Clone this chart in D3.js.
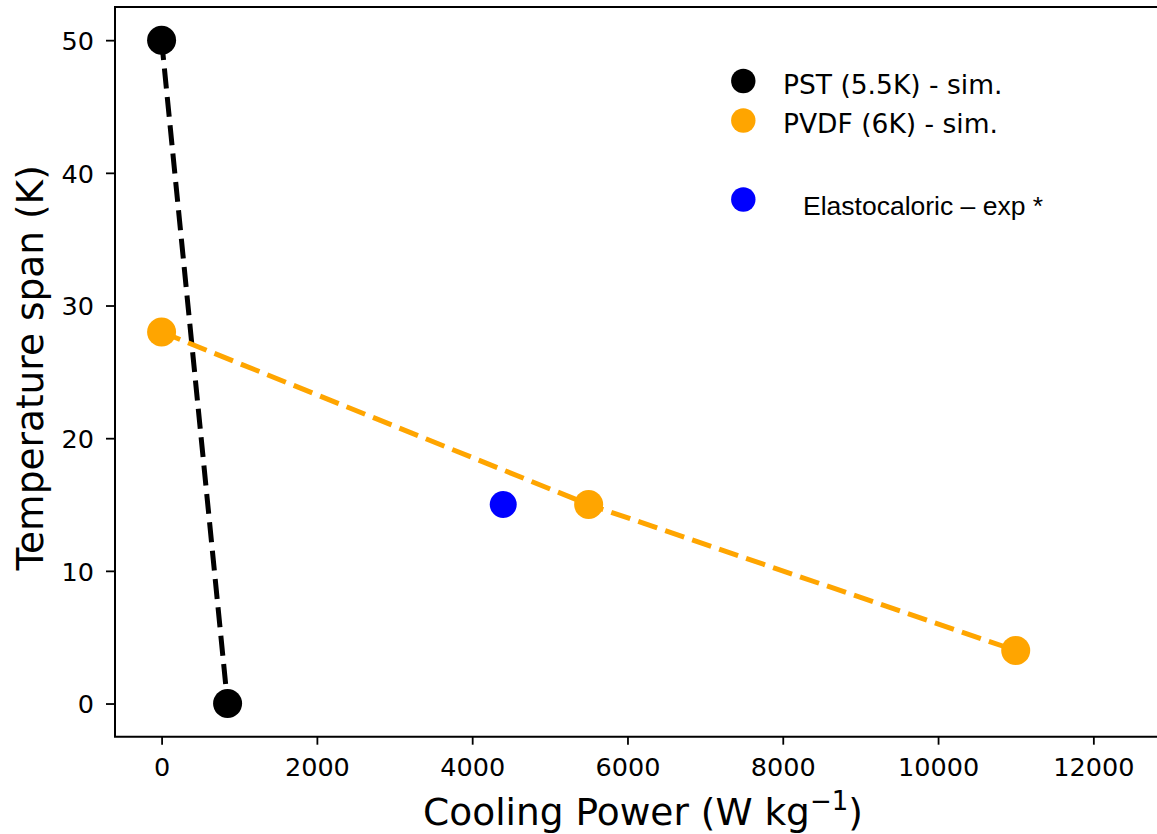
<!DOCTYPE html>
<html>
<head>
<meta charset="utf-8">
<script src="https://cdn.jsdelivr.net/npm/d3@7"></script>
<style>
  html, body { margin: 0; padding: 0; background: #fff; }
  svg { display: block; }
</style>
</head>
<body>
<svg id="chart" width="1157" height="834"></svg>
<script>
// Simulated caloric cycles: temperature span vs cooling power
const pstPower = [0, 850];
const pstSpan = [50, 0];
const pvdfPower = [0, 5500, 11000];
const pvdfSpan = [28, 15, 4];
const elastoPower = [4400];
const elastoSpan = [15];

const xTicks = [0, 2000, 4000, 6000, 8000, 10000, 12000];
const yTicks = [0, 10, 20, 30, 40, 50];

const seriesNames = ["PST (5.5K) - sim.", "PVDF (6K) - sim.", "Elastocaloric \u2013 exp *"];
const seriesColors = ["#000000", "#FFA500", "#0000FF"];

const svg = d3.select("#chart");
const plotLeft = 115, plotRight = 1171, plotTop = 7, plotBottom = 736.7;

const x = d3.scaleLinear().domain([-600, 13000]).range([plotLeft, plotRight]);
const y = d3.scaleLinear().domain([-2.5, 52.5]).range([plotBottom, plotTop]);

const tickFont = "'DejaVu Sans', sans-serif";

// Axes
const xAxis = d3.axisBottom(x).tickValues(xTicks).tickFormat(d3.format("d")).tickSizeOuter(0).tickSize(8).tickPadding(6);
const yAxis = d3.axisLeft(y).tickValues(yTicks).tickFormat(d3.format("d")).tickSizeOuter(0).tickSize(9).tickPadding(12);

const gx = svg.append("g").attr("transform", `translate(0,${plotBottom})`).call(xAxis);
const gy = svg.append("g").attr("transform", `translate(${plotLeft},0)`).call(yAxis);

[gx, gy].forEach(g => {
  g.select(".domain").remove();
  g.selectAll(".tick line").attr("stroke", "#000").attr("stroke-width", 1.8);
  g.selectAll(".tick text").attr("fill", "#000").style("font-family", tickFont).style("font-size", "25.5px");
});
gx.selectAll(".tick text").attr("dy", null).attr("y", 39.5);
gy.selectAll(".tick text").attr("dy", "0.36em");

// Spines (left, top, bottom)
svg.append("path")
  .attr("d", `M${plotRight},${plotTop}H${plotLeft}V${plotBottom}H${plotRight}`)
  .attr("fill", "none").attr("stroke", "#000").attr("stroke-width", 2);

// Axis titles
const xLabel = svg.append("text")
  .attr("x", (plotLeft + plotRight) / 2).attr("y", 825)
  .attr("text-anchor", "middle")
  .style("font-family", tickFont).style("font-size", "37.5px").attr("fill", "#000");
xLabel.append("tspan").text("Cooling Power (W kg");
xLabel.append("tspan").attr("dy", -15).style("font-size", "26px").text("\u22121");
xLabel.append("tspan").attr("dy", 15).text(")");

svg.append("text")
  .attr("transform", `translate(43,${(plotTop + plotBottom) / 2 - 4}) rotate(-90)`)
  .attr("text-anchor", "middle")
  .style("font-family", tickFont).style("font-size", "37.5px").attr("fill", "#000")
  .text("Temperature span (K)");

// Dashed connecting lines
const line = d3.line().x(d => x(d[0])).y(d => y(d[1]));
const pstPts = pstPower.map((p, i) => [p, pstSpan[i]]);
const pvdfPts = pvdfPower.map((p, i) => [p, pvdfSpan[i]]);
const elastoPts = elastoPower.map((p, i) => [p, elastoSpan[i]]);

svg.append("path").attr("d", line(pstPts))
  .attr("fill", "none").attr("stroke", seriesColors[0]).attr("stroke-width", 5)
  .attr("stroke-dasharray", "20 8.5");
svg.append("path").attr("d", line(pvdfPts))
  .attr("fill", "none").attr("stroke", seriesColors[1]).attr("stroke-width", 5)
  .attr("stroke-dasharray", "20 8.5");

// Markers
[[pstPts, 0, 14.5], [pvdfPts, 1, 14.5], [elastoPts, 2, 13.5]].forEach(([pts, ci, r]) => {
  svg.append("g").selectAll("circle").data(pts).join("circle")
    .attr("cx", d => x(d[0])).attr("cy", d => y(d[1])).attr("r", r)
    .attr("fill", seriesColors[ci]);
});

// Legend
const legendRows = [
  { cy: 81, ty: 94.3, tx: 783, font: tickFont, size: 26.5 },
  { cy: 120.5, ty: 133, tx: 783, font: tickFont, size: 26.5 },
  { cy: 199.5, ty: 215, tx: 803, font: "'Liberation Sans', Arial, sans-serif", size: 26.5 }
];
const legend = svg.append("g");
legendRows.forEach((row, i) => {
  legend.append("circle").attr("cx", 743.3).attr("cy", row.cy).attr("r", 12.2).attr("fill", seriesColors[i]);
  legend.append("text").attr("x", row.tx).attr("y", row.ty)
    .style("font-family", row.font).style("font-size", row.size + "px").attr("fill", "#000")
    .text(seriesNames[i]);
});
</script>
</body>
</html>
